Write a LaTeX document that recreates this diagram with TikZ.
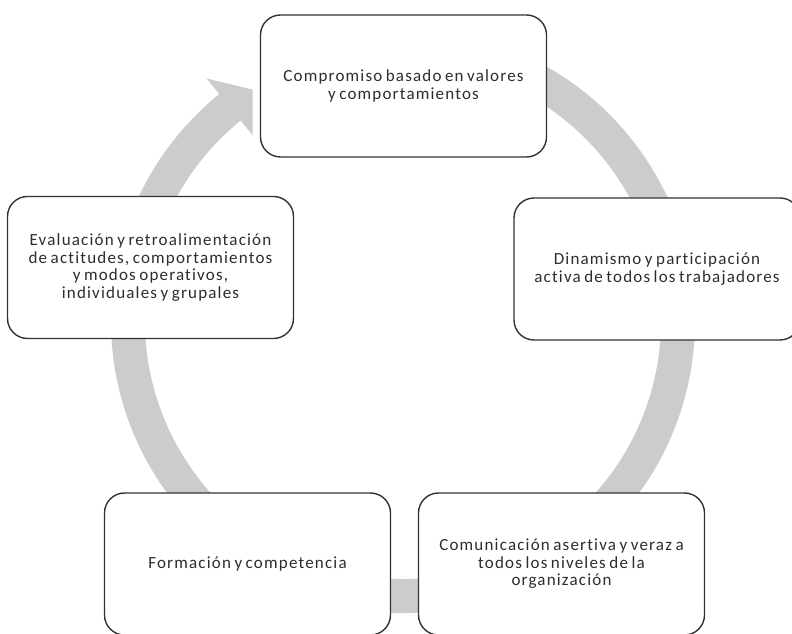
\documentclass[tikz,border=0pt]{standalone}
\usepackage{fontspec}
\setmainfont[LetterSpace=7, WordSpace=0.7, Ligatures={NoCommon,NoRare,NoContextual}, Contextuals={NoAlternate}]{Carlito}
\definecolor{aro}{RGB}{204,204,204}
\definecolor{borde}{RGB}{50,50,50}
\definecolor{texto}{RGB}{45,45,45}

\begin{document}
\begin{tikzpicture}[x=1pt, y=1pt,
    etapa/.style={draw=borde, line width=1.4pt, fill=white, rounded corners=20pt, minimum width=286pt, minimum height=142pt, align=center, text=texto, font=\fontsize{17}{17.5}\selectfont}]
    \useasboundingbox (0,0) rectangle (792,634);
    \clip (0,0) rectangle (792,634);

    % Circular arrow
    \coordinate (centro) at (403,313);
    \draw[aro, line width=34pt] ([shift={(80:275)}]centro) arc[start angle=80, end angle=-231.5, radius=275];
    \fill[aro, shift={(centro)}] (129:239) -- (123:276) -- (129:312) -- cycle;

    % Nodes
    \node[etapa] (compromiso) at (403.5,548) {Compromiso basado en valores\\y comportamientos};
    \node[etapa] (dinamismo) at (657,365) {Dinamismo y participación\\activa de todos los trabajadores};
    \node[etapa] (comunicacion) at (561.5,70) {Comunicación asertiva y veraz a\\todos los niveles de la\\organización};
    \node[etapa] (formacion) at (247.5,70) {Formación y competencia};
    \node[etapa] (evaluacion) at (150.5,366.5) {Evaluación y retroalimentación\\de actitudes, comportamientos\\y modos operativos,\\individuales y grupales};
\end{tikzpicture}
\end{document}
